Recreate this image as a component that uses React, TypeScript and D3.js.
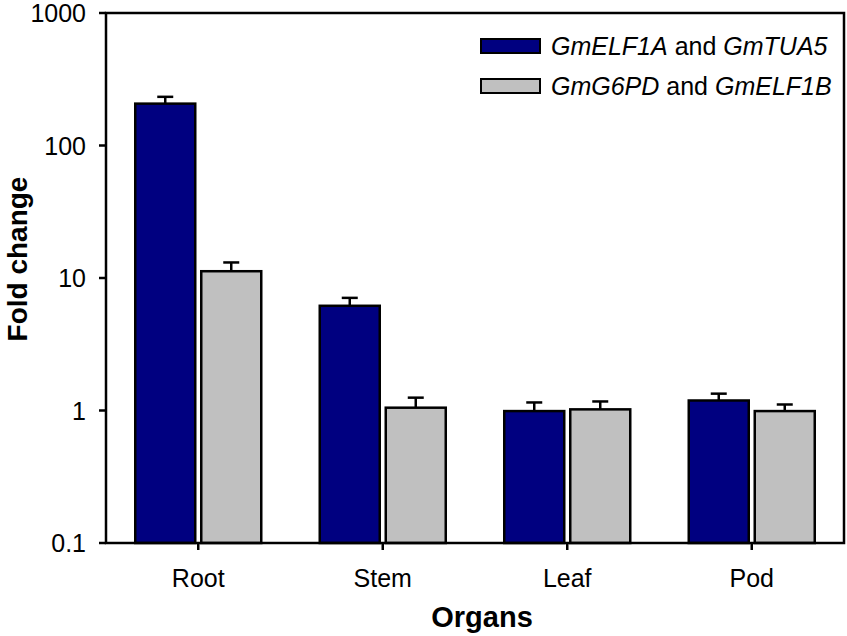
import { useEffect, useRef } from 'react';
import * as d3 from 'd3';

const organs = ['Root', 'Stem', 'Leaf', 'Pod'];
const seriesNames = ['GmELF1A and GmTUA5', 'GmG6PD and GmELF1B'];
const seriesColors = ['#000080', '#c0c0c0'];
const elfTuaValues = [207, 6.17, 0.99, 1.19];
const elfTuaErrors = [26, 0.91, 0.16, 0.15];
const g6pdElfValues = [11.25, 1.05, 1.02, 0.99];
const g6pdElfErrors = [1.85, 0.2, 0.15, 0.12];
const yTicks = [0.1, 1, 10, 100, 1000];

const App = () => {
  const svgRef = useRef<SVGSVGElement>(null);

  useEffect(() => {
    if (!svgRef.current) return;
    const svg = d3.select(svgRef.current);
    svg.selectAll('*').remove();

    const width = 847;
    const height = 636;
    const margin = { top: 13, right: 3, bottom: 93, left: 106 };
    const font = 'Arial, "Liberation Sans", sans-serif';

    const x = d3.scaleBand()
      .domain(organs)
      .range([margin.left, width - margin.right]);

    const y = d3.scaleLog()
      .domain([0.1, 1000])
      .range([height - margin.bottom, margin.top]);

    const barWidth = 60;
    const gap = 6;

    svg.append('rect')
      .attr('width', width)
      .attr('height', height)
      .attr('fill', '#fff');

    const series = [
      { values: elfTuaValues, errors: elfTuaErrors, offset: -gap / 2 - barWidth },
      { values: g6pdElfValues, errors: g6pdElfErrors, offset: gap / 2 },
    ];

    series.forEach((s, si) => {
      const g = svg.append('g');
      organs.forEach((o, i) => {
        const cx = x(o)! + x.bandwidth() / 2;
        const bx = cx + s.offset;
        const top = y(s.values[i]);
        const errTop = y(s.values[i] + s.errors[i]);
        const mid = bx + barWidth / 2;

        g.append('line')
          .attr('x1', mid).attr('x2', mid)
          .attr('y1', top).attr('y2', errTop)
          .attr('stroke', '#000').attr('stroke-width', 2.5);
        g.append('line')
          .attr('x1', mid - 8).attr('x2', mid + 8)
          .attr('y1', errTop).attr('y2', errTop)
          .attr('stroke', '#000').attr('stroke-width', 2.5);

        g.append('rect')
          .attr('x', bx)
          .attr('y', top)
          .attr('width', barWidth)
          .attr('height', y(0.1) - top)
          .attr('fill', seriesColors[si])
          .attr('stroke', '#000')
          .attr('stroke-width', 2.5);
      });
    });

    // frame
    svg.append('rect')
      .attr('x', margin.left)
      .attr('y', margin.top)
      .attr('width', width - margin.right - margin.left)
      .attr('height', y(0.1) - margin.top)
      .attr('fill', 'none')
      .attr('stroke', '#000')
      .attr('stroke-width', 2.5);

    // y axis ticks
    const yAxis = svg.append('g');
    yTicks.forEach(t => {
      yAxis.append('line')
        .attr('x1', margin.left - 7).attr('x2', margin.left)
        .attr('y1', y(t)).attr('y2', y(t))
        .attr('stroke', '#000').attr('stroke-width', 2.5);
      yAxis.append('text')
        .attr('x', margin.left - 20)
        .attr('y', y(t))
        .attr('dy', '0.36em')
        .attr('text-anchor', 'end')
        .attr('font-family', font)
        .attr('font-size', 25)
        .text(String(t));
    });

    // x axis ticks
    const xAxis = svg.append('g');
    organs.forEach(o => {
      const cx = x(o)! + x.bandwidth() / 2;
      xAxis.append('line')
        .attr('x1', cx).attr('x2', cx)
        .attr('y1', y(0.1)).attr('y2', y(0.1) + 7)
        .attr('stroke', '#000').attr('stroke-width', 2.5);
      xAxis.append('text')
        .attr('x', cx)
        .attr('y', 587)
        .attr('text-anchor', 'middle')
        .attr('font-family', font)
        .attr('font-size', 25)
        .text(o);
    });

    svg.append('text')
      .attr('x', (margin.left + width - margin.right) / 2 + 7)
      .attr('y', 627)
      .attr('text-anchor', 'middle')
      .attr('font-family', font)
      .attr('font-weight', 'bold')
      .attr('font-size', 29)
      .text('Organs');

    svg.append('text')
      .attr('transform', 'translate(27, 259) rotate(-90)')
      .attr('text-anchor', 'middle')
      .attr('font-family', font)
      .attr('font-weight', 'bold')
      .attr('font-size', 28)
      .text('Fold change');

    // legend
    const legend = svg.append('g');
    const legendParts = [
      [{ t: 'GmELF1A', i: true }, { t: ' and ', i: false }, { t: 'GmTUA5', i: true }],
      [{ t: 'GmG6PD', i: true }, { t: ' and ', i: false }, { t: 'GmELF1B', i: true }],
    ];
    seriesNames.forEach((name, i) => {
      const ly = 46 + i * 40;
      legend.append('rect')
        .attr('x', 481)
        .attr('y', ly - 7)
        .attr('width', 59)
        .attr('height', 14)
        .attr('fill', seriesColors[i])
        .attr('stroke', '#000')
        .attr('stroke-width', 2);
      const text = legend.append('text')
        .attr('x', 551)
        .attr('y', ly)
        .attr('dy', '0.36em')
        .attr('font-family', font)
        .attr('font-size', 25)
        .attr('aria-label', name);
      legendParts[i].forEach(p => {
        text.append('tspan')
          .attr('font-style', p.i ? 'italic' : 'normal')
          .text(p.t);
      });
    });
  }, []);

  return (
    <div style={{ position: 'absolute', left: 0, top: 0 }}>
      <svg ref={svgRef} width={847} height={636} style={{ display: 'block' }} />
    </div>
  );
};

export default App;
